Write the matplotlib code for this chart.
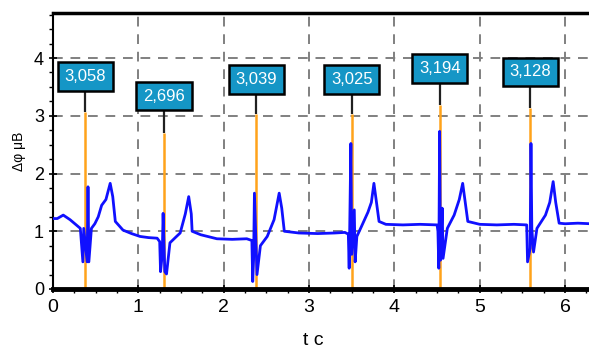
import matplotlib.pyplot as plt
import numpy as np
from matplotlib.ticker import MultipleLocator

plt.rcParams['font.family'] = ['Liberation Sans', 'DejaVu Sans']

# signal trace
t = [0.00, 0.05, 0.12, 0.20, 0.32, 0.35, 0.36, 0.40, 0.41, 0.42, 0.45, 0.49,
     0.53, 0.57, 0.62, 0.67, 0.70, 0.73, 0.82, 0.92, 1.02, 1.12, 1.22, 1.25,
     1.26, 1.28, 1.29, 1.31, 1.33, 1.37, 1.44, 1.49, 1.55, 1.59, 1.62, 1.63,
     1.73, 1.92, 2.10, 2.27, 2.33, 2.34, 2.35, 2.36, 2.39, 2.43, 2.51, 2.59,
     2.65, 2.68, 2.71, 2.88, 3.10, 3.30, 3.42, 3.46, 3.47, 3.49, 3.50, 3.53,
     3.54, 3.56, 3.61, 3.69, 3.73, 3.76, 3.79, 3.82, 3.90, 4.10, 4.30, 4.50,
     4.51, 4.52, 4.53, 4.54, 4.56, 4.57, 4.62, 4.70, 4.76, 4.80, 4.83, 4.86,
     5.00, 5.20, 5.40, 5.55, 5.56, 5.59, 5.60, 5.61, 5.63, 5.67, 5.77, 5.82,
     5.86, 5.89, 5.93, 6.00, 6.15, 6.30]
dphi = [1.22, 1.22, 1.28, 1.20, 1.05, 0.47, 1.05, 0.47, 1.77, 0.47, 1.05, 1.13,
        1.25, 1.45, 1.55, 1.83, 1.60, 1.17, 1.02, 0.96, 0.91, 0.89, 0.88, 0.82,
        0.30, 0.60, 1.31, 0.30, 0.26, 0.80, 0.90, 0.97, 1.30, 1.60, 1.30, 1.00,
        0.94, 0.87, 0.86, 0.87, 0.84, 0.13, 0.50, 1.66, 0.25, 0.75, 0.91, 1.20,
        1.66, 1.40, 1.00, 0.97, 0.96, 0.97, 0.98, 0.95, 0.36, 2.52, 0.60, 1.37,
        0.47, 0.91, 1.07, 1.33, 1.50, 1.83, 1.50, 1.17, 1.12, 1.11, 1.12, 1.11,
        1.00, 0.36, 2.73, 0.50, 1.40, 0.53, 1.05, 1.28, 1.55, 1.83, 1.50, 1.17,
        1.12, 1.11, 1.12, 1.11, 0.47, 0.70, 2.52, 1.05, 0.64, 1.05, 1.28, 1.50,
        1.86, 1.50, 1.14, 1.13, 1.14, 1.13]

# marked intervals
mark_t = [0.38, 1.30, 2.38, 3.50, 4.53, 5.59]
mark_val = [3.058, 2.696, 3.039, 3.025, 3.194, 3.128]
mark_text = ['3,058', '2,696', '3,039', '3,025', '3,194', '3,128']
label_y = [3.68, 3.34, 3.63, 3.63, 3.82, 3.76]

fig = plt.figure(figsize=(5.89, 3.52), dpi=100)
ax = fig.add_axes([0.09, 0.179, 0.91, 0.784])

ax.grid(True, color='#808080', linestyle=(0, (5, 4)), linewidth=1.4)
ax.set_axisbelow(True)

ax.vlines(mark_t, 0, mark_val, color='#ffa31a', linewidth=1.8, zorder=2)
ax.plot(t, dphi, color='#1010ff', linewidth=2.0, zorder=3)

for xm, v, s, ly in zip(mark_t, mark_val, mark_text, label_y):
    ax.vlines(xm, v, ly - 0.26, color='#202020', linewidth=1.6, zorder=2)
    ax.text(xm, ly, s, ha='center', va='center', color='white', fontsize=12,
            zorder=5, fontstretch='condensed',
            bbox=dict(boxstyle='square,pad=0.4', fc='#1596c6', ec='black', lw=1.8))

ax.set_xlim(0, 6.28)
ax.set_ylim(0, 4.78)
ax.xaxis.set_major_locator(MultipleLocator(1))
ax.yaxis.set_major_locator(MultipleLocator(1))
ax.xaxis.set_minor_locator(MultipleLocator(0.25))
ax.yaxis.set_minor_locator(MultipleLocator(0.25))
ax.tick_params(axis='both', which='major', labelsize=13, length=6, width=1.2, direction='inout')
ax.tick_params(axis='x', which='major', labelsize=14, pad=4)
ax.tick_params(axis='both', which='minor', length=3, width=1)

ax.spines['bottom'].set_linewidth(3.5)
ax.spines['top'].set_linewidth(2.5)
ax.spines['left'].set_linewidth(1.5)
ax.spines['right'].set_visible(False)

ax.set_ylabel('Δφ μВ', fontsize=10, labelpad=6)
ax.set_xlabel('t c', fontsize=14)
ax.xaxis.set_label_coords(0.485, -0.155)

fig.savefig('out.png', dpi=100)
